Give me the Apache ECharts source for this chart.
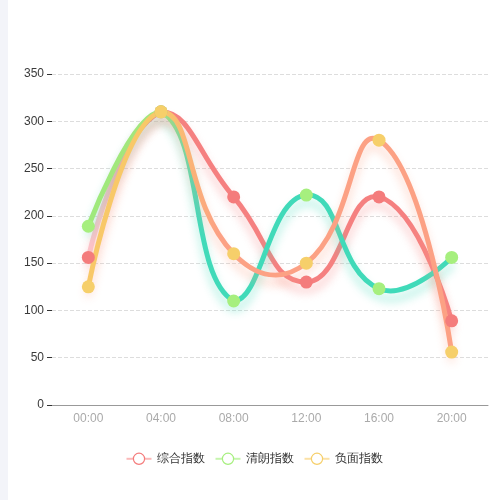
<!DOCTYPE html>
<html>
<head>
<meta charset="utf-8">
<script src="https://cdn.jsdelivr.net/npm/echarts@6/dist/echarts.min.js"></script>
<style>
  html, body { margin: 0; padding: 0; background: #f3f4f9; }
  #chart { position: absolute; left: 8px; top: 0; width: 492px; height: 500px; background: #fff; }
</style>
</head>
<body>
<div id="chart"></div>
<script>
var hours = ['00:00', '04:00', '08:00', '12:00', '16:00', '20:00'];
var seriesNames = ['综合指数', '清朗指数', '负面指数'];
var zongheData = [156, 310, 220, 130, 220, 89];
var qinglangData = [189, 310, 110, 222, 123, 156];
var fumianData = [125, 310, 160, 150, 280, 56];
var allData = [zongheData, qinglangData, fumianData];

var pointColors = ['#f47c7c', '#a6ef7e', '#f6cf6a'];
var legendLineColors = ['#fbb9b9', '#c6f5ae', '#fbe1a6'];
var lineStarts = ['#fbc3ca', '#9fe97c', '#f8c868'];
var lineEnds = ['#f58080', '#40dab9', '#fca184'];
var gradientStops = [[0.04, 0.18], [0.2, 0.3], [0.2, 0.36]];
var shadowColors = ['rgba(245,128,128,0.45)', 'rgba(64,218,185,0.45)', 'rgba(252,161,132,0.45)'];
var SMOOTH = 0.5;

var dom_chart = document.getElementById('chart');
var chart = echarts.init(dom_chart);

// old style smoothing (no clamp at local extremes), like the picture
function smoothPath(pts) {
    var minX = Infinity, minY = Infinity, maxX = -Infinity, maxY = -Infinity;
    pts.forEach(function (p) {
        minX = Math.min(minX, p[0]); maxX = Math.max(maxX, p[0]);
        minY = Math.min(minY, p[1]); maxY = Math.max(maxY, p[1]);
    });
    function clamp(c) {
        return [Math.min(Math.max(c[0], minX), maxX), Math.min(Math.max(c[1], minY), maxY)];
    }
    var d = 'M' + pts[0][0] + ' ' + pts[0][1];
    var cp0 = pts[0].slice();
    for (var i = 1; i < pts.length; i++) {
        var p = pts[i], prev = pts[i - 1], next = pts[i + 1];
        var cp1, v = [0, 0], ratio = 0.5;
        if (!next) {
            cp1 = p.slice();
        } else {
            v = [next[0] - prev[0], next[1] - prev[1]];
            var lp = Math.hypot(p[0] - prev[0], p[1] - prev[1]);
            var ln = Math.hypot(next[0] - p[0], next[1] - p[1]);
            ratio = ln / (ln + lp);
            cp1 = [p[0] - v[0] * SMOOTH * (1 - ratio), p[1] - v[1] * SMOOTH * (1 - ratio)];
        }
        cp0 = clamp(cp0); cp1 = clamp(cp1);
        d += ' C' + cp0[0] + ' ' + cp0[1] + ' ' + cp1[0] + ' ' + cp1[1] + ' ' + p[0] + ' ' + p[1];
        cp0 = [p[0] + v[0] * SMOOTH * ratio, p[1] + v[1] * SMOOTH * ratio];
    }
    return d;
}

function makeCurve(i) {
    var values = allData[i];
    return {
        name: 'curve' + i,
        type: 'custom',
        z: 2,
        silent: true,
        encode: {x: 0, y: 1},
        data: values.map(function (v, j) { return [j, v]; }),
        renderItem: function (params, api) {
            if (params.dataIndex !== 0) return null;
            var pts = values.map(function (v, j) { return api.coord([j, v]); });
            return {
                type: 'path',
                shape: {pathData: smoothPath(pts)},
                style: {
                    fill: 'none',
                    lineWidth: 5,
                    lineCap: 'round',
                    stroke: new echarts.graphic.LinearGradient(0, 0, 1, 0, [
                        {offset: 0, color: lineStarts[i]},
                        {offset: gradientStops[i][0], color: lineStarts[i]},
                        {offset: gradientStops[i][1], color: lineEnds[i]},
                        {offset: 1, color: lineEnds[i]}
                    ]),
                    shadowColor: shadowColors[i],
                    shadowBlur: 10,
                    shadowOffsetY: 8
                }
            };
        }
    };
}

function makePoints(i) {
    return {
        name: seriesNames[i],
        type: 'line',
        z: 3,
        data: allData[i],
        symbol: 'circle',
        symbolSize: 13,
        showSymbol: true,
        lineStyle: {opacity: 0},
        itemStyle: {color: pointColors[i]}
    };
}

var legendData = [];
for (var k = 0; k < seriesNames.length; k++) {
    legendData.push({
        name: seriesNames[k],
        itemStyle: {color: '#fff', borderColor: pointColors[k], borderWidth: 1.2},
        lineStyle: {color: legendLineColors[k], width: 2, opacity: 1}
    });
}

var option = {
    animation: false,
    color: pointColors,
    grid: {left: 44, right: 12, top: 74, bottom: 95},
    legend: {
        bottom: 30,
        itemWidth: 25,
        itemHeight: 14,
        itemGap: 10,
        textStyle: {color: '#333', fontSize: 12},
        data: legendData
    },
    xAxis: {
        type: 'category',
        data: hours,
        axisLine: {lineStyle: {color: '#999'}},
        axisTick: {lineStyle: {color: '#999'}},
        axisLabel: {color: '#aaa', fontSize: 12, margin: 8}
    },
    yAxis: {
        type: 'value',
        min: 0,
        max: 350,
        interval: 50,
        axisLine: {show: false},
        axisTick: {show: true, length: 5, lineStyle: {color: '#333'}},
        axisLabel: {color: '#3a3a3a', fontSize: 12, margin: 8},
        splitLine: {lineStyle: {type: 'dashed', color: '#ddd'}}
    },
    series: [
        makeCurve(0), makeCurve(1), makeCurve(2),
        makePoints(0), makePoints(1), makePoints(2)
    ]
};

chart.setOption(option);
</script>
</body>
</html>
